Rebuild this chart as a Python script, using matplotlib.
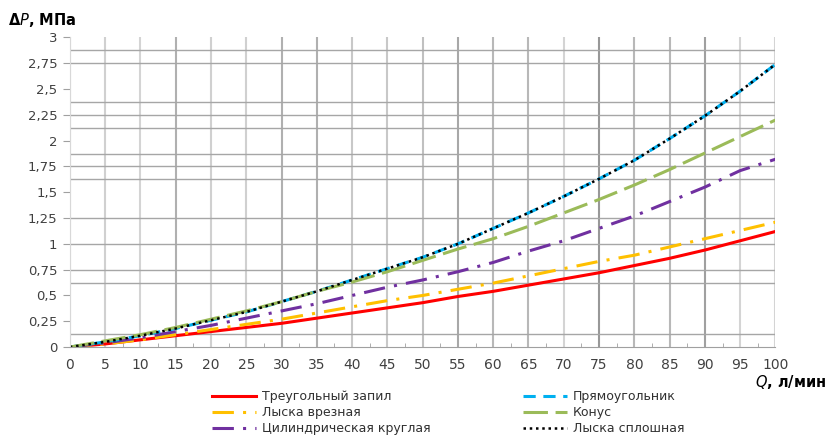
import numpy as np
import matplotlib
matplotlib.use("Agg")
import matplotlib.pyplot as plt

# расход Q, л/мин
q = [0, 5, 10, 15, 20, 25, 30, 35, 40, 45, 50,
     55, 60, 65, 70, 75, 80, 85, 90, 95, 100]

# перепад давления, МПа
tri = [0, 0.03, 0.07, 0.11, 0.15, 0.19, 0.23, 0.28, 0.33, 0.38, 0.43,
       0.49, 0.54, 0.60, 0.66, 0.72, 0.79, 0.86, 0.94, 1.03, 1.12]
lys_vr = [0, 0.03, 0.07, 0.12, 0.17, 0.22, 0.27, 0.33, 0.39, 0.45, 0.50,
          0.56, 0.62, 0.69, 0.76, 0.83, 0.89, 0.97, 1.05, 1.13, 1.21]
cyl = [0, 0.04, 0.09, 0.15, 0.21, 0.28, 0.35, 0.42, 0.50, 0.58, 0.65,
       0.73, 0.82, 0.93, 1.03, 1.15, 1.27, 1.41, 1.55, 1.71, 1.82]
rect = [0, 0.05, 0.11, 0.18, 0.26, 0.34, 0.44, 0.54, 0.65, 0.76, 0.87,
        1.00, 1.15, 1.30, 1.46, 1.63, 1.81, 2.02, 2.24, 2.48, 2.74]
kon = [0, 0.06, 0.12, 0.19, 0.27, 0.35, 0.44, 0.54, 0.63, 0.73, 0.84,
       0.95, 1.05, 1.17, 1.30, 1.43, 1.57, 1.72, 1.88, 2.04, 2.20]
lys_spl = [0, 0.05, 0.11, 0.18, 0.26, 0.34, 0.44, 0.54, 0.65, 0.76, 0.87,
           1.00, 1.15, 1.30, 1.46, 1.63, 1.81, 2.02, 2.24, 2.48, 2.74]

xticks = np.arange(0, 101, 5)
yticks = np.arange(0, 3.01, 0.25)
ylabels = ["0", "0,25", "0,5", "0,75", "1", "1,25", "1,5", "1,75",
           "2", "2,25", "2,5", "2,75", "3"]
# видимые горизонтальные линии сетки
hgrid = [0.125, 0.625, 0.75, 1.0, 1.25, 1.625, 1.75, 1.875,
         2.125, 2.25, 2.375, 2.75, 2.875]
# оттенки вертикальной сетки (как на картинке)
vshade = ["#e0e0e0", "#d0d0d0", "#d4d4d4", "#b0b0b0", "#d0d0d0", "#d0d0d0",
          "#b0b0b0", "#b0b0b0", "#c8c8c8", "#c8c8c8", "#c0c0c0", "#a8a8a8",
          "#b8b8b8", "#b8b8b8", "#d4d4d4", "#989898", "#b8b8b8", "#b8b8b8",
          "#a0a0a0", "#d4d4d4", "#d4d4d4"]

fig = plt.figure(figsize=(8.32, 4.36), dpi=100)
ax = fig.add_axes([0.084, 0.204, 0.848, 0.710])

#-----Сетка--------
for xv, c in zip(xticks, vshade):
    ax.axvline(xv, color=c, lw=1.5, zorder=0)
for yv in hgrid:
    ax.axhline(yv, color="#a6a6a6", lw=1.0, zorder=0)

#-----Кривые--------
ax.plot(q, tri, color="#ff0000", lw=2.2, label="Треугольный запил")
ax.plot(q, lys_vr, color="#ffc000", lw=2.2, dashes=(7, 3, 1, 3),
        label="Лыска врезная")
ax.plot(q, cyl, color="#7030a0", lw=2.2, dashes=(7, 3, 1, 3),
        label="Цилиндрическая круглая")
ax.plot(q, rect, color="#00b0f0", lw=2.2, dashes=(4, 2.5),
        label="Прямоугольник")
ax.plot(q, kon, color="#9bbb59", lw=2.2, dashes=(8, 2.5),
        label="Конус")
ax.plot(q, lys_spl, color="black", lw=1.8, dashes=(1, 1.5),
        label="Лыска сплошная")

ax.set_xlim(0, 100)
ax.set_ylim(0, 3)
ax.set_xticks(xticks)
ax.set_xticklabels([str(v) for v in xticks])
ax.set_yticks(yticks)
ax.set_yticklabels(ylabels)
ax.set_xticks(np.arange(2.5, 100, 5), minor=True)
ax.tick_params(axis="x", which="major", length=0, pad=8,
               labelsize=10, labelcolor="#404040")
ax.tick_params(axis="x", which="minor", direction="in", length=3,
               color="#a0a0a0")
ax.tick_params(axis="y", which="major", length=5, color="#a0a0a0",
               labelsize=9.5, labelcolor="#404040", pad=4)
for s in ["top", "right"]:
    ax.spines[s].set_visible(False)
ax.spines["bottom"].set_color("#a0a0a0")
ax.spines["left"].set_color("#d8d8d8")

fig.text(0.010, 0.955, "Δ$\\mathbf{\\it{P}}$, МПа", fontsize=10.5,
         fontweight="bold", va="center")
fig.text(0.993, 0.124, "$\\mathbf{\\it{Q}}$, л/мин", fontsize=10.5,
         fontweight="bold", ha="right", va="center")

fig.legend(loc="lower left", bbox_to_anchor=(0.241, -0.024), ncol=2,
           frameon=False, fontsize=9, handlelength=3.5,
           columnspacing=7.4, labelspacing=0.25, handletextpad=0.5,
           labelcolor="#303030")

plt.savefig("out.png", dpi=100)
